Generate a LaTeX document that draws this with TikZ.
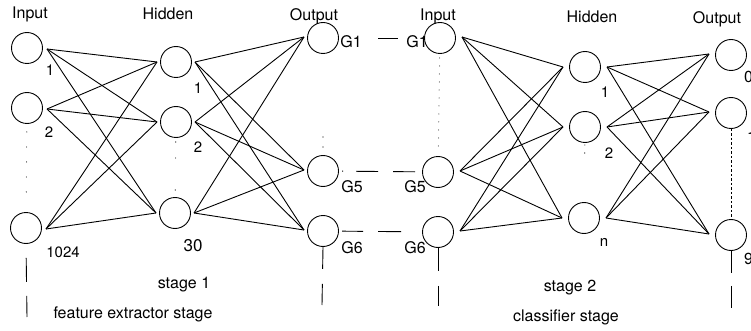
\documentclass[tikz,border=0pt]{standalone}
\usepackage{fontspec}
\setmainfont{TeX Gyre Heros}
\usetikzlibrary{calc}
\begin{document}
\begin{tikzpicture}[x=1pt,y=-1pt,
  neuron/.style={draw, circle, minimum size=31pt, inner sep=0pt, line width=0.9pt},
  wire/.style={line width=0.9pt},
  head/.style={font=\fontsize{16}{16}\selectfont, inner sep=0pt},
  lab/.style={font=\fontsize{15}{15}\selectfont, inner sep=0pt},
  glab/.style={font=\fontsize{16}{16}\selectfont, inner sep=0pt},
  dots/.style={line width=1.1pt, line cap=round},
  tail/.style={line width=0.9pt}]
\useasboundingbox (0,0) rectangle (751,331);

% headings
\node[head] (hIn1) at (30,14) {Input};
\node[head] (hHid1) at (168,14) {Hidden};
\node[head] (hOut1) at (314,16) {Output};
\node[head] (hIn2) at (438,16) {Input};
\node[head] (hHid2) at (592,17) {Hidden};
\node[head] (hOut2) at (717,19) {Output};

% stage 1 neurons
\node[neuron] (i1) at (27,48) {};
\node[neuron] (i2) at (27,108) {};
\node[neuron] (i3) at (26,228) {};
\node[neuron] (h1) at (176,62) {};
\node[neuron] (h2) at (176,122) {};
\node[neuron] (h3) at (175,213) {};
\node[neuron] (o1) at (323,38) {};
\node[neuron] (o5) at (323,171) {};
\node[neuron] (o6) at (323,231) {};
% stage 2 neurons
\node[neuron] (j1) at (440,38) {};
\node[neuron] (j5) at (438,172) {};
\node[neuron] (j6) at (438,232) {};
\node[neuron] (k1) at (585,67) {};
\node[neuron] (k2) at (585,127) {};
\node[neuron] (k3) at (584,218) {};
\node[neuron] (p1) at (731,55) {};
\node[neuron] (p2) at (731,113) {};
\node[neuron] (p3) at (731,235) {};

% wire end points
\foreach \n in {i1,i2,i3} {\coordinate (\n o) at ($(\n)+(20,1)$);}
\foreach \n in {h1,h2,h3} {\coordinate (\n i) at ($(\n)+(-19,0)$); \coordinate (\n o) at ($(\n)+(19,0)$);}
\foreach \n in {o1,o5,o6} {\coordinate (\n i) at ($(\n)+(-19,-1)$);}
\foreach \n in {j1,j5,j6} {\coordinate (\n o) at ($(\n)+(22,-1)$);}
\foreach \n in {k1,k2,k3} {\coordinate (\n i) at ($(\n)+(-22,0)$); \coordinate (\n o) at ($(\n)+(22,0)$);}
\foreach \n in {p1,p2,p3} {\coordinate (\n i) at ($(\n)+(-22,-1)$);}

% full connections
\foreach \a in {i1,i2,i3} \foreach \b in {h1,h2,h3} {\draw[wire] (\a o) -- (\b i);}
\foreach \a in {h1,h2,h3} \foreach \b in {o1,o5,o6} {\draw[wire] (\a o) -- (\b i);}
\foreach \a in {j1,j5,j6} \foreach \b in {k1,k2,k3} {\draw[wire] (\a o) -- (\b i);}
\foreach \a in {k1,k2,k3} \foreach \b in {p1,p2,p3} {\draw[wire] (\a o) -- (\b i);}

% labels
\node[lab] (l1) at (50,70) {1};
\node[lab] (l2) at (49,132) {2};
\node[lab] (l1024) at (63,252) {1024};
\node[lab] (m1) at (198,88) {1};
\node[lab] (m2) at (198,147) {2};
\node[font=\fontsize{17}{17}\selectfont, inner sep=0pt] (m30) at (193,246) {30};
\node[glab] (g1a) at (351,42) {G1};
\node[glab] (g5a) at (352,187) {G5};
\node[glab] (g6a) at (352,248) {G6};
\node[glab] (g1b) at (417,42) {G1};
\node[glab] (g5b) at (415,187) {G5};
\node[glab] (g6b) at (415,248) {G6};
\node[lab] (n1) at (605,92) {1};
\node[lab] (n2) at (609,153) {2};
\node[lab] (nn) at (604,242) {n};
\node[glab, anchor=west] (q0) at (744,77) {0};
\node[glab, anchor=west] (q1) at (747,137) {1};
\node[glab, anchor=west] (q9) at (744,259) {9};

% dashed links between stages
\draw[wire, shorten <=55pt, shorten >=42pt] (o1.center) -- (j1.center);
\draw[wire, shorten <=19pt, shorten >=23pt, dash pattern=on 1pt off 13pt on 22pt off 15pt on 22pt off 30pt] (o5.center) -- (j5.center);
\draw[wire, shorten <=19pt, shorten >=37pt, dash pattern=on 21pt off 15pt on 23pt off 40pt] (o6.center) -- (j6.center);

% dotted columns
\draw[dots, shorten <=24pt, shorten >=32pt, dash pattern=on 0pt off 15pt] (i2.center) -- (i3.center);
\draw[dots, shorten <=20pt, shorten >=23pt, dash pattern=on 0pt off 16pt on 0pt off 32pt] (h2.center) -- (h3.center);
\draw[dots, shorten <=99pt, shorten >=24pt, dash pattern=on 0pt off 10pt] (o1.center) -- (o5.center);
\draw[dots, line width=1pt, shorten <=20pt, shorten >=23pt, dash pattern=on 0pt off 8pt] (j1.center) -- (j5.center);
\draw[dots, shorten <=18pt, shorten >=65pt, dash pattern=on 0pt off 8pt] (k2.center) -- (k3.center);
\draw[line width=0.8pt, dash pattern=on 2.5pt off 2pt] (p2.south) -- (p3.north);

% tails below the last neurons
\coordinate (ti) at (27,317);
\coordinate (to) at (322,305);
\coordinate (tj) at (438,306);
\coordinate (tp) at (731,308);
\draw[tail, shorten <=14pt, dash pattern=on 24pt off 14pt on 30pt] (i3.south) -- (ti);
\draw[tail, dash pattern=on 22pt off 15pt on 30pt] (o6.south) -- (to);
\draw[tail, dash pattern=on 23pt off 15pt on 30pt] (j6.south) -- (tj);
\draw[tail, dash pattern=on 22pt off 13pt on 30pt] (p3.south) -- (tp);

% stage captions
\node[head] (s1) at (184,285) {stage 1};
\node[head] (s1b) at (133,314) {feature extractor stage};
\node[head] (s2) at (570,288) {stage 2};
\node[head] (s2b) at (566,317) {classifier stage};
\end{tikzpicture}
\end{document}
